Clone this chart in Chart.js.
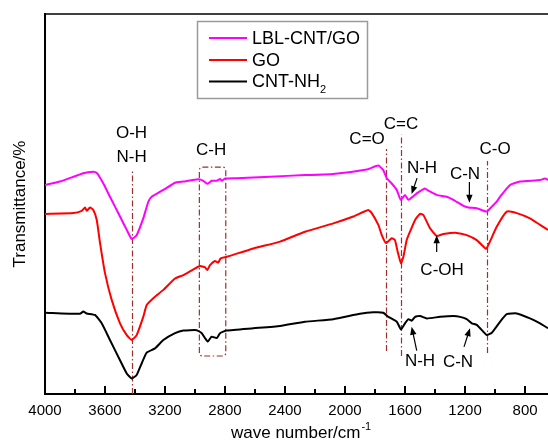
<!DOCTYPE html>
<html>
<head>
<meta charset="utf-8">
<script src="https://cdn.jsdelivr.net/npm/chart.js@4.4.0/dist/chart.umd.min.js"></script>
<style>
  html, body { margin: 0; padding: 0; background: #fff; }
  #wrap { width: 548px; height: 443px; }
</style>
</head>
<body>
<div id="wrap"><canvas id="ftir" width="548" height="443"></canvas></div>
<script>
// FTIR spectra, values (wave number in cm-1, transmittance in arbitrary %)
const xTicks = [4000, 3600, 3200, 2800, 2400, 2000, 1600, 1200, 800];

const lblWave = [4000, 3900, 3745, 3678, 3655, 3611, 3567, 3500, 3455, 3422, 3389, 3345, 3311, 3289, 3211, 3133, 3078, 2978, 2945, 2918, 2889, 2855, 2833, 2822, 2800, 2722, 2500, 2267, 2080, 1855, 1778, 1745, 1722, 1689, 1655, 1629, 1600, 1578, 1522, 1467, 1445, 1389, 1322, 1278, 1211, 1178, 1122, 1055, 1022, 989, 967, 900, 833, 700, 667, 647];
const lblT = [55.0, 55.9, 58.1, 58.5, 58.2, 55.4, 51.9, 46.7, 43.2, 40.8, 41.8, 46.2, 50.6, 51.9, 53.7, 55.6, 55.9, 56.5, 56.1, 55.3, 56.1, 56.1, 56.6, 56.1, 56.7, 56.8, 57.2, 57.6, 57.9, 59.1, 60.1, 58.9, 56.8, 55.4, 53.7, 51.1, 52.4, 51.1, 52.8, 54.1, 53.5, 52.4, 51.9, 51.1, 49.5, 49.1, 48.9, 48.0, 49.3, 50.6, 51.9, 55.0, 55.9, 56.3, 56.7, 56.3];

const goWave = [4000, 3811, 3755, 3733, 3722, 3700, 3678, 3655, 3633, 3600, 3555, 3500, 3455, 3422, 3389, 3345, 3322, 3278, 3211, 3133, 3078, 2967, 2933, 2918, 2900, 2867, 2845, 2829, 2789, 2611, 2433, 2267, 2078, 1945, 1845, 1822, 1778, 1755, 1727, 1689, 1667, 1649, 1627, 1611, 1589, 1567, 1533, 1500, 1478, 1445, 1433, 1389, 1345, 1255, 1189, 1122, 1060, 1040, 989, 922, 855, 767, 700, 647];
const goT = [47.4, 47.6, 48.2, 49.1, 48.2, 49.1, 48.4, 45.8, 39.7, 31.8, 24.7, 18.6, 15.5, 14.2, 15.5, 20.3, 23.4, 25.2, 27.4, 30.4, 31.3, 33.7, 33.3, 32.6, 33.9, 35.0, 34.6, 35.7, 36.1, 38.3, 40.1, 42.7, 44.9, 46.7, 48.4, 47.6, 44.5, 41.8, 39.7, 41.0, 40.5, 37.4, 34.4, 36.1, 40.5, 42.7, 45.8, 47.4, 47.1, 44.5, 43.6, 41.6, 42.1, 42.4, 41.8, 40.5, 38.2, 39.6, 44.0, 48.0, 47.6, 46.2, 44.5, 43.2];

const cntWave = [4000, 3767, 3745, 3722, 3667, 3622, 3567, 3500, 3455, 3422, 3389, 3355, 3322, 3267, 3211, 3133, 3078, 2989, 2955, 2933, 2915, 2889, 2855, 2833, 2789, 2611, 2433, 2267, 2078, 1900, 1811, 1745, 1711, 1655, 1627, 1600, 1578, 1555, 1533, 1500, 1455, 1367, 1278, 1233, 1189, 1155, 1122, 1078, 1055, 1022, 967, 922, 855, 767, 700, 647];
const cntT = [21.4, 21.1, 21.7, 21.2, 20.8, 18.6, 14.2, 8.9, 5.4, 4.1, 5.0, 8.1, 10.9, 12.0, 14.2, 16.0, 16.7, 16.8, 16.0, 14.7, 13.8, 15.1, 14.7, 16.0, 16.7, 17.3, 17.9, 19.0, 19.7, 21.1, 21.5, 21.4, 20.3, 19.0, 17.0, 18.6, 19.7, 19.3, 20.3, 20.5, 19.9, 20.3, 20.5, 20.3, 19.7, 18.6, 18.2, 16.4, 15.5, 16.1, 19.0, 21.0, 21.2, 19.9, 18.6, 17.3];

// band markers: [wave number, lower T, upper T]
const bandLines = [[3422, 0, 58.9], [1725, 11.3, 64.5], [1627, 10.0, 68.2], [1053, 10.8, 61.3]];
const chBox = [2971, 2795, 10.0, 59.7];
// labels: [text, wave number, T]
const bandLabels = [
  ['O-H', 3423, 68.7], ['N-H', 3423, 62.4], ['C-H', 2893, 64.2],
  ['C=O', 1853, 67.1], ['C=C', 1627, 71.1], ['N-H', 1487, 59.5],
  ['C-N', 1200, 57.9], ['C-O', 1000, 64.5], ['C-OH', 1353, 32.6],
  ['N-H', 1500, 8.7], ['C-N', 1247, 8.4]
];
// arrows: [from wave, from T, to wave, to T]
const arrows = [
  [1520, 56.8, 1556, 52.6], [1171, 55.8, 1171, 50.3], [1389, 37.4, 1389, 41.8],
  [1522, 11.4, 1556, 17.7], [1207, 12.4, 1167, 17.3]
];

const seriesNames = ['LBL-CNT/GO', 'GO', 'CNT-NH'];
const seriesColors = ['#ff00ff', '#ff0000', '#000000'];

const FONT = '"Liberation Sans", Arial, sans-serif';
const bandColor = '#9e2f2f';

function pairs(w, t) {
  return w.map((v, i) => ({ x: v, y: t[i] }));
}

function arrow(ctx, x1, y1, x2, y2) {
  let a = Math.atan2(y2 - y1, x2 - x1);
  ctx.beginPath();
  ctx.moveTo(x1, y1);
  ctx.lineTo(x2 - 5 * Math.cos(a), y2 - 5 * Math.sin(a));
  ctx.stroke();
  ctx.beginPath();
  ctx.moveTo(x2, y2);
  ctx.lineTo(x2 - 8 * Math.cos(a) + 3.2 * Math.sin(a), y2 - 8 * Math.sin(a) - 3.2 * Math.cos(a));
  ctx.lineTo(x2 - 8 * Math.cos(a) - 3.2 * Math.sin(a), y2 - 8 * Math.sin(a) + 3.2 * Math.cos(a));
  ctx.closePath();
  ctx.fill();
}

const extras = {
  id: 'extras',
  beforeDatasetsDraw(chart) {
    const ctx = chart.ctx, xs = chart.scales.x, ys = chart.scales.y;
    ctx.save();
    ctx.strokeStyle = bandColor;
    ctx.lineWidth = 1.2;
    ctx.setLineDash([6, 2.5, 1.5, 2.5]);
    bandLines.forEach(b => {
      let x = Math.round(xs.getPixelForValue(b[0])) + 0.5;
      ctx.beginPath();
      ctx.moveTo(x, ys.getPixelForValue(b[1]));
      ctx.lineTo(x, ys.getPixelForValue(b[2]));
      ctx.stroke();
    });
    let bx1 = xs.getPixelForValue(chBox[0]), bx2 = xs.getPixelForValue(chBox[1]);
    let by1 = ys.getPixelForValue(chBox[3]), by2 = ys.getPixelForValue(chBox[2]);
    ctx.beginPath();
    if (ctx.roundRect) ctx.roundRect(bx1, by1, bx2 - bx1, by2 - by1, 3);
    else ctx.rect(bx1, by1, bx2 - bx1, by2 - by1);
    ctx.stroke();
    ctx.restore();
  },
  afterDraw(chart) {
    const ctx = chart.ctx, xs = chart.scales.x, ys = chart.scales.y, area = chart.chartArea;
    ctx.save();
    // frame top
    ctx.strokeStyle = '#000';
    ctx.lineWidth = 1.5;
    ctx.beginPath();
    ctx.moveTo(area.left, area.top);
    ctx.lineTo(area.right, area.top);
    ctx.stroke();

    // inward ticks
    ctx.lineWidth = 2;
    for (let w = 800; w <= 4000; w += 200) {
      let x = Math.round(xs.getPixelForValue(w));
      let len = w % 400 === 0 ? 8 : 5;
      ctx.beginPath();
      ctx.moveTo(x, area.bottom);
      ctx.lineTo(x, area.bottom - len);
      ctx.stroke();
    }

    // band labels
    ctx.fillStyle = '#000';
    ctx.font = '17px ' + FONT;
    ctx.textAlign = 'center';
    ctx.textBaseline = 'middle';
    bandLabels.forEach(l => {
      ctx.fillText(l[0], xs.getPixelForValue(l[1]), ys.getPixelForValue(l[2]));
    });

    // arrows
    ctx.strokeStyle = '#000';
    ctx.lineWidth = 1.2;
    arrows.forEach(a => {
      arrow(ctx, xs.getPixelForValue(a[0]), ys.getPixelForValue(a[1]),
        xs.getPixelForValue(a[2]), ys.getPixelForValue(a[3]));
    });

    // legend
    ctx.strokeStyle = '#9a9a9a';
    ctx.lineWidth = 1.5;
    ctx.strokeRect(197.5, 21.5, 170, 77);
    let rows = [38, 60, 81.5];
    ctx.textAlign = 'left';
    seriesNames.forEach((n, i) => {
      ctx.strokeStyle = seriesColors[i];
      ctx.lineWidth = 2;
      ctx.beginPath();
      ctx.moveTo(209, rows[i]);
      ctx.lineTo(247, rows[i]);
      ctx.stroke();
      ctx.font = '18px ' + FONT;
      ctx.fillText(n, 252, rows[i] + 1);
      if (i === 2) {
        let w = ctx.measureText(n).width;
        ctx.font = '11px ' + FONT;
        ctx.fillText('2', 252 + w, rows[i] + 8);
      }
    });

    // x title with superscript
    ctx.font = '17px ' + FONT;
    ctx.textBaseline = 'alphabetic';
    let t = 'wave number/cm';
    ctx.fillText(t, 231, 438);
    let tw = ctx.measureText(t).width;
    ctx.font = '11px ' + FONT;
    ctx.fillText('-1', 231 + tw + 1, 430);
    ctx.restore();
  }
};

new Chart(document.getElementById('ftir'), {
  type: 'line',
  data: {
    datasets: [
      { label: seriesNames[0], data: pairs(lblWave, lblT), borderColor: seriesColors[0] },
      { label: seriesNames[1], data: pairs(goWave, goT), borderColor: seriesColors[1] },
      { label: 'CNT-NH2', data: pairs(cntWave, cntT), borderColor: seriesColors[2] }
    ]
  },
  options: {
    responsive: false,
    animation: false,
    devicePixelRatio: 1,
    layout: { autoPadding: false, padding: { top: 14, right: 0, left: 0, bottom: 0 } },
    elements: {
      line: { borderWidth: 2, tension: 0.15, fill: false },
      point: { radius: 0 }
    },
    plugins: { legend: { display: false }, tooltip: { enabled: false } },
    scales: {
      x: {
        type: 'linear',
        reverse: true,
        min: 647,
        max: 4000,
        afterBuildTicks: s => { s.ticks = xTicks.map(v => ({ value: v })); },
        afterFit: s => { s.height = 49; s.paddingLeft = 0; s.paddingRight = 0; },
        grid: { display: false, drawTicks: false },
        border: { display: true, color: '#000', width: 2 },
        ticks: {
          color: '#000', font: { family: FONT, size: 15 }, padding: 8,
          maxRotation: 0, autoSkip: false,
          callback: v => String(v)
        }
      },
      y: {
        min: 0,
        max: 100,
        afterFit: s => { s.width = 45; },
        grid: { display: false, drawTicks: false },
        border: { display: true, color: '#000', width: 2 },
        ticks: { display: false },
        title: {
          display: true, text: 'Transmittance/%', color: '#000',
          font: { family: FONT, size: 17, lineHeight: 1.2 },
          padding: { top: 10, bottom: 0 }
        }
      }
    }
  },
  plugins: [extras]
});
</script>
</body>
</html>
